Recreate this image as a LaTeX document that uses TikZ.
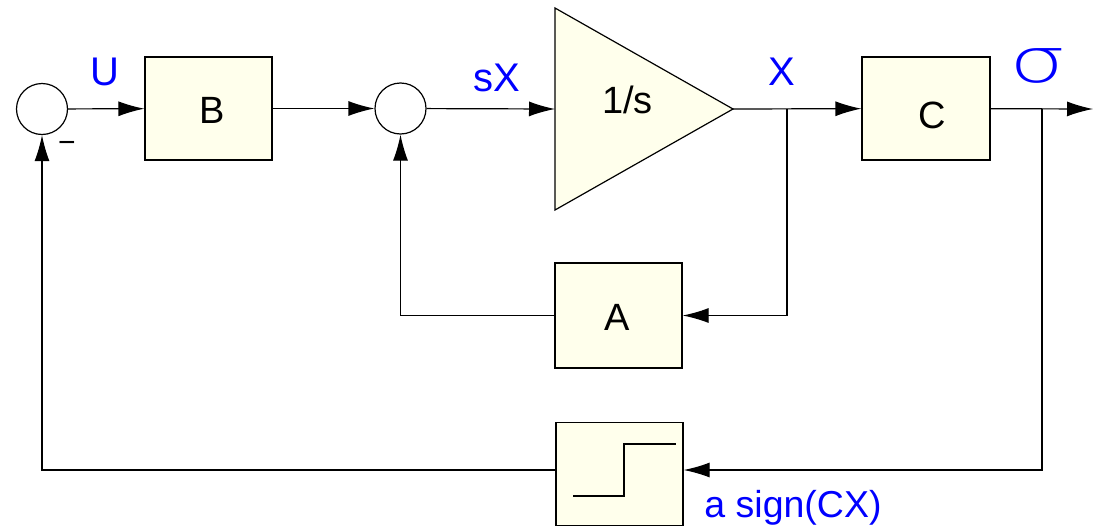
\documentclass[tikz,border=0pt]{standalone}
\usepackage{fontspec}
\setmainfont{Liberation Sans}
\newfontfamily\sigfont{DejaVu Sans ExtraLight}
\usetikzlibrary{arrows.meta,calc}
\definecolor{blockfill}{RGB}{255,255,236}
\definecolor{lblblue}{RGB}{0,0,255}
\begin{document}
\begin{tikzpicture}[x=1pt,y=-1pt,
  line width=1.2pt,
  >={Latex[length=26pt,width=15pt]},
  blockbox/.style={draw, fill=blockfill, rectangle, inner sep=0pt},
  blocktext/.style={font=\fontsize{38}{42}\selectfont, inner sep=0pt},
  sumnode/.style={draw, circle, fill=white, minimum size=51pt, inner sep=0pt},
  lbl/.style={text=lblblue, font=\fontsize{40}{44}\selectfont, inner sep=0pt}]
\useasboundingbox (0,0) rectangle (1099,530);
% summing junctions
\node[sumnode] (s1) at (42,109) {};
\node[sumnode] (s2) at (400.5,108.5) {};
% blocks
\node[blockbox, minimum width=127pt, minimum height=103pt] (B) at (208.5,108.5) {};
\node[blockbox, minimum width=128pt, minimum height=103pt] (C) at (926,108.5) {};
\node[blockbox, minimum width=127pt, minimum height=105pt] (A) at (618.5,315.5) {};
\node[blockbox, minimum width=127pt, minimum height=103pt] (S) at (619.5,474) {};
\node[blocktext] (Btxt) at (212.5,110.5) {B};
\node[blocktext] (Ctxt) at (932,115.5) {C};
\node[blocktext] (Atxt) at (617,317.5) {A};
% integrator triangle
\draw[fill=blockfill] (555,8) -- (733,109) -- (555,210) -- cycle;
\coordinate (Iin) at (555,109);
\coordinate (Iout) at (733,109);
\node[blocktext] (Ilab) at (627.5,99.5) {1/s};
% step symbol inside sign block
\draw (573,496) -- (624,496) -- (624,444) -- (676,444);
% branch points and output
\coordinate (br1) at (787,109);
\coordinate (br2) at (1042,109);
\coordinate (out) at (1093,109);
% connectors
\draw[->] (s1) -- (B);
\draw[->] (B) -- (s2);
\draw[->] (s2) -- (Iin);
\draw[->] (Iout) -- (C);
\draw[->] (C) -- (out);
\draw[->] (br1) |- (A.east);
\draw[->] (A.west) -| (s2.south);
\draw[->] (br2) |- ([yshift=4pt]S.east);
\draw[->] ([yshift=4pt]S.west) -| (s1.south);
% labels
\node[lbl] (lU) at (105,72) {U};
\node[lbl] (lsX) at (497,78) {sX};
\node[lbl] (lX) at (782,72) {X};
\node[text=lblblue, font=\sigfont\fontsize{62}{66}\selectfont, inner sep=0pt, xscale=1.45] (lsig) at (1038,66) {σ};
\node[lbl, font=\fontsize{37.5}{42}\selectfont] (lsign) at (793,508) {a sign(CX)};
\node[font=\fontsize{30}{34}\selectfont, inner sep=0pt] (lminus) at (67,147) {−};
\end{tikzpicture}
\end{document}
